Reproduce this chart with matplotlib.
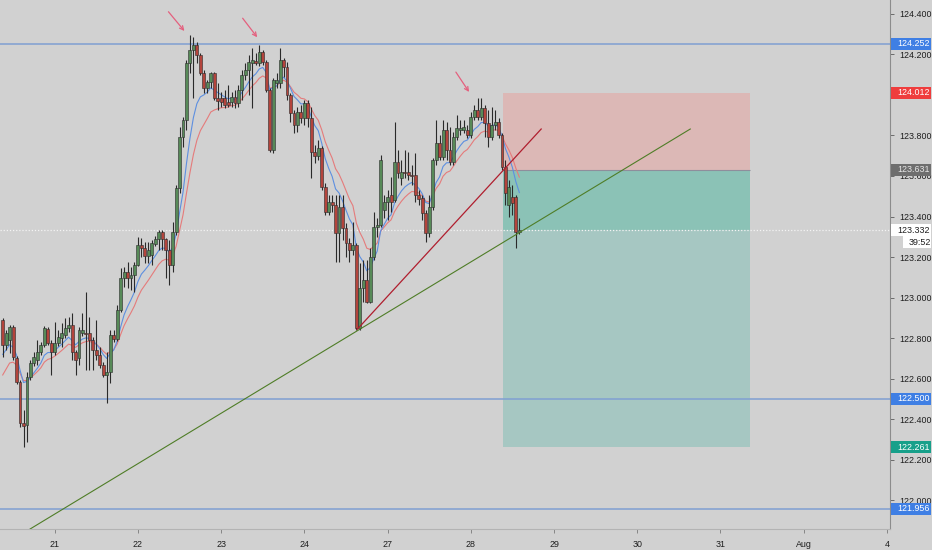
import matplotlib
matplotlib.use('Agg')
import matplotlib.pyplot as plt
from matplotlib.patches import Rectangle
import matplotlib.transforms as mtransforms
import numpy as np

plt.rcParams['font.family'] = ['Liberation Sans', 'DejaVu Sans']

# ---------------- data (hourly candles) ----------------
opens = [
122.889, 122.765, 122.790, 122.854, 122.701, 122.583, 122.380, 122.370, 122.607, 122.676,
122.691, 122.731, 122.765, 122.844, 122.775, 122.731, 122.775, 122.800, 122.815, 122.849,
122.864, 122.731, 122.701, 122.824, 122.824, 122.824, 122.790, 122.741, 122.716, 122.667,
122.617, 122.632, 122.815, 122.795, 122.938, 123.096, 123.126, 123.096, 123.111, 123.160,
123.259, 123.244, 123.205, 123.210, 123.264, 123.289, 123.323, 123.289, 123.234, 123.160,
123.323, 123.540, 123.792, 123.876, 124.158, 124.222, 124.247, 124.197, 124.108, 124.034,
124.064, 124.108, 123.985, 123.985, 123.985, 123.965, 123.965, 123.990, 123.960, 124.025,
124.099, 124.123, 124.158, 124.168, 124.158, 124.212, 124.163, 124.025, 123.728, 124.059,
124.059, 124.173, 124.138, 124.000, 123.911, 123.852, 123.916, 123.886, 123.960, 123.886,
123.719, 123.699, 123.738, 123.546, 123.422, 123.471, 123.457, 123.318, 123.447, 123.343,
123.269, 123.234, 123.259, 122.849, 123.047, 123.086, 122.978, 123.200, 123.348, 123.358,
123.432, 123.471, 123.506, 123.481, 123.669, 123.590, 123.620, 123.620, 123.605, 123.605,
123.506, 123.491, 123.417, 123.318, 123.447, 123.679, 123.763, 123.694, 123.827, 123.728,
123.669, 123.792, 123.827, 123.827, 123.827, 123.802, 123.891, 123.926, 123.891, 123.936,
123.862, 123.792, 123.852, 123.867, 123.802, 123.644, 123.457, 123.496, 123.496, 123.323,
]
highs = [
122.899, 122.839, 122.864, 122.864, 122.711, 122.593, 122.444, 122.632, 122.691, 122.731,
122.790, 122.780, 122.859, 122.854, 122.790, 122.879, 122.839, 122.874, 122.899, 122.904,
122.923, 122.741, 122.854, 122.923, 123.027, 122.904, 122.805, 122.889, 122.755, 122.681,
122.731, 122.839, 122.839, 122.963, 123.146, 123.151, 123.175, 123.151, 123.175, 123.299,
123.294, 123.274, 123.274, 123.284, 123.304, 123.333, 123.333, 123.294, 123.284, 123.373,
123.555, 123.842, 123.891, 124.173, 124.296, 124.286, 124.261, 124.207, 124.123, 124.074,
124.113, 124.113, 124.059, 124.015, 124.025, 124.049, 124.015, 124.025, 124.049, 124.123,
124.158, 124.197, 124.232, 124.207, 124.247, 124.222, 124.173, 124.034, 124.084, 124.108,
124.232, 124.183, 124.163, 124.010, 123.926, 123.941, 123.951, 123.975, 123.975, 123.941,
123.753, 123.778, 123.748, 123.565, 123.506, 123.506, 123.506, 123.506, 123.506, 123.368,
123.294, 123.373, 123.269, 123.170, 123.185, 123.185, 123.244, 123.422, 123.392, 123.704,
123.506, 123.531, 123.595, 123.867, 123.728, 123.679, 123.728, 123.719, 123.654, 123.714,
123.531, 123.506, 123.432, 123.506, 123.689, 123.876, 123.802, 123.876, 123.867, 123.842,
123.817, 123.901, 123.876, 123.876, 123.852, 123.916, 123.951, 123.985, 123.985, 123.951,
123.926, 123.941, 123.926, 123.886, 123.812, 123.679, 123.580, 123.555, 123.506, 123.392,
]
lows = [
122.706, 122.741, 122.726, 122.691, 122.573, 122.361, 122.262, 122.286, 122.593, 122.662,
122.667, 122.716, 122.755, 122.765, 122.617, 122.716, 122.760, 122.755, 122.800, 122.829,
122.691, 122.617, 122.667, 122.810, 122.642, 122.642, 122.642, 122.691, 122.652, 122.607,
122.479, 122.578, 122.780, 122.785, 122.928, 123.052, 123.047, 123.037, 123.027, 123.155,
123.200, 123.170, 123.170, 123.160, 123.254, 123.234, 123.234, 123.096, 123.062, 123.126,
123.309, 123.516, 123.743, 123.827, 124.108, 123.985, 124.158, 124.099, 124.010, 124.010,
124.034, 123.975, 123.926, 123.941, 123.936, 123.941, 123.941, 123.936, 123.941, 123.975,
124.074, 124.000, 123.936, 124.148, 124.143, 124.148, 124.015, 123.719, 123.714, 124.034,
124.034, 124.089, 123.975, 123.867, 123.812, 123.817, 123.862, 123.852, 123.842, 123.590,
123.664, 123.679, 123.531, 123.407, 123.407, 123.422, 123.175, 123.175, 123.284, 123.200,
123.175, 123.210, 122.839, 122.839, 122.978, 122.973, 122.973, 123.185, 123.299, 123.348,
123.392, 123.383, 123.422, 123.471, 123.590, 123.555, 123.590, 123.580, 123.555, 123.471,
123.457, 123.383, 123.274, 123.299, 123.432, 123.654, 123.679, 123.679, 123.679, 123.654,
123.654, 123.778, 123.802, 123.812, 123.787, 123.787, 123.876, 123.876, 123.876, 123.792,
123.743, 123.778, 123.827, 123.787, 123.630, 123.457, 123.398, 123.407, 123.244, 123.313,
]
closes = [
122.765, 122.824, 122.854, 122.706, 122.583, 122.380, 122.366, 122.607, 122.676, 122.706,
122.731, 122.765, 122.849, 122.775, 122.731, 122.775, 122.805, 122.824, 122.849, 122.864,
122.731, 122.691, 122.839, 122.839, 122.820, 122.790, 122.741, 122.716, 122.667, 122.617,
122.632, 122.815, 122.795, 122.938, 123.096, 123.126, 123.096, 123.111, 123.160, 123.259,
123.244, 123.205, 123.234, 123.269, 123.289, 123.323, 123.289, 123.234, 123.160, 123.323,
123.540, 123.792, 123.876, 124.158, 124.222, 124.247, 124.197, 124.108, 124.034, 124.064,
124.108, 123.985, 123.970, 123.965, 123.951, 123.951, 123.990, 123.960, 124.025, 124.099,
124.123, 124.163, 124.173, 124.158, 124.212, 124.163, 124.025, 123.728, 124.074, 124.074,
124.173, 124.138, 124.000, 123.911, 123.852, 123.916, 123.886, 123.960, 123.886, 123.719,
123.699, 123.738, 123.546, 123.422, 123.471, 123.457, 123.318, 123.447, 123.343, 123.269,
123.234, 123.259, 122.849, 123.047, 123.086, 122.978, 123.200, 123.348, 123.358, 123.679,
123.471, 123.496, 123.471, 123.669, 123.615, 123.620, 123.615, 123.605, 123.600, 123.506,
123.486, 123.417, 123.318, 123.447, 123.679, 123.763, 123.694, 123.827, 123.728, 123.669,
123.792, 123.837, 123.837, 123.842, 123.802, 123.891, 123.926, 123.891, 123.936, 123.862,
123.792, 123.852, 123.867, 123.802, 123.644, 123.516, 123.546, 123.466, 123.323, 123.332,
]

x_tick_idx = [15, 39, 63, 87, 111, 135, 159, 183, 207, 231, 255]
x_tick_labels = ['21', '22', '23', '24', '27', '28', '29', '30', '31', 'Aug', '4']
y_ticks = [122.0, 122.2, 122.4, 122.6, 122.8, 123.0, 123.2, 123.4, 123.6, 123.8, 124.0, 124.2, 124.4]
y_tick_labels = ['122.000', '122.200', '122.400', '122.600', '122.800', '123.000', '123.200',
                 '123.400', '123.600', '123.800', '', '124.200', '124.400']

levels = [124.252, 122.500, 121.956]
pos_start, pos_end = 144.3, 215.6
pos_stop, pos_entry, pos_target = 124.012, 123.631, 122.261

red_trend_x = [102.2, 155.3]
red_trend_y = [122.842, 123.832]
green_trend_x = [7.9, 198.3]
green_trend_y = [121.857, 123.832]

arrow_starts = [(47.8, 124.411), (69.2, 124.379), (130.7, 124.113)]
arrow_ends = [(52.4, 124.316), (73.4, 124.285), (134.5, 124.015)]

ema_fast_period, ema_slow_period = 8, 13
ema_fast_seed, ema_slow_seed = 122.706, 122.593
countdown = '39:52'

# ---------------- styling ----------------
BG = '#d1d1d1'
UP, DOWN, EDGE = '#578a58', '#b3443c', '#2a2a2a'
FS = 6.4

fig = plt.figure(figsize=(9.32, 5.5), dpi=100, facecolor=BG)
ax = fig.add_axes([0, 21 / 550, 890 / 932, 529 / 550], facecolor=BG)
ax.set_xlim(-0.78, 255.9)
ax.set_ylim(121.857, 124.469)
px = (124.469 - 121.857) / 529.0  # price per pixel

idx = np.arange(len(closes))
o = np.array(opens); h = np.array(highs); l = np.array(lows); c = np.array(closes)
last = closes[-1]

# position box
ax.add_patch(Rectangle((pos_start, pos_entry), pos_end - pos_start, pos_stop - pos_entry,
                       facecolor='#dcb8b6', edgecolor='none', zorder=1))
ax.add_patch(Rectangle((pos_start, last), pos_end - pos_start, pos_entry - last,
                       facecolor='#8bc2b6', edgecolor='none', zorder=1))
ax.add_patch(Rectangle((pos_start, pos_target), pos_end - pos_start, last - pos_target,
                       facecolor='#a6c7c2', edgecolor='none', zorder=1))
ax.hlines(pos_entry, pos_start, pos_end, color='#8e8e9c', lw=0.8, zorder=1.5)

# horizontal levels
for lv in levels:
    ax.axhline(lv, color='#7f9fd2', lw=1.1, zorder=2)
ax.axhline(last, color='#f4f4f4', lw=0.9, ls=(0, (1, 1.5)), zorder=2)

# EMAs
def ema(vals, period, seed):
    a = 2.0 / (period + 1)
    out = []
    e = seed
    for v in vals:
        e = e + a * (v - e)
        out.append(e)
    return np.array(out)

ax.plot(idx, ema(closes, ema_slow_period, ema_slow_seed), color='#e57b7b', lw=0.8, zorder=2.5)
ax.plot(idx, ema(closes, ema_fast_period, ema_fast_seed), color='#5d8fe0', lw=0.8, zorder=2.6)

# candles
ax.vlines(idx, l, h, color=EDGE, lw=0.8, zorder=3)
bottoms = np.minimum(o, c)
heights = np.maximum(np.abs(c - o), px * 0.8)
colors = [UP if cc >= oo else DOWN for oo, cc in zip(opens, closes)]
ax.bar(idx, heights, bottom=bottoms, width=0.84, color=colors, edgecolor=EDGE,
       linewidth=0.4, zorder=4)

# trend lines
ax.plot(red_trend_x, red_trend_y, color='#b01e2e', lw=0.9, zorder=5)
ax.plot(green_trend_x, green_trend_y, color='#4f7d27', lw=0.8, zorder=5)

# arrows
for s, e in zip(arrow_starts, arrow_ends):
    ax.annotate('', xy=e, xytext=s,
                arrowprops=dict(arrowstyle='->', color='#e4607e', lw=0.9,
                                mutation_scale=7, shrinkA=0, shrinkB=0), zorder=6)

# axes styling
for sp in ['top', 'left']:
    ax.spines[sp].set_visible(False)
ax.spines['right'].set_color('#8c8c8c')
ax.spines['right'].set_linewidth(0.8)
ax.spines['bottom'].set_color('#b3b3b3')
ax.spines['bottom'].set_linewidth(0.8)

ax.yaxis.tick_right()
ax.set_yticks(y_ticks)
ax.set_yticklabels(y_tick_labels)
ax.tick_params(axis='y', length=3, width=0.6, pad=4, labelsize=FS, colors='#5a5a5a',
               labelcolor='#1e1e1e')
ax.set_xticks(x_tick_idx)
ax.set_xticklabels(x_tick_labels)
ax.tick_params(axis='x', length=3, width=0.6, pad=5, labelsize=FS, colors='#7a7a7a',
               labelcolor='#1e1e1e')

# price tags
trans = mtransforms.blended_transform_factory(ax.transAxes, ax.transData)
x0, x1 = 1.0012, 1.0462
tag_h = 12 * px

def tag(price, text, fc, tc, left=x0, right=x1):
    ax.add_patch(Rectangle((left, price - tag_h / 2), right - left, tag_h, transform=trans,
                           facecolor=fc, edgecolor='none', clip_on=False, zorder=10))
    ax.text(left + 0.0068, price, text, transform=trans, color=tc, fontsize=FS,
            va='center', ha='left', zorder=11, clip_on=False)

tag(levels[0], '%.3f' % levels[0], '#3f7fe4', 'white')
tag(pos_stop, '%.3f' % pos_stop, '#ef3d3d', 'white')
tag(pos_entry, '%.3f' % pos_entry, '#6e6e6e', '#e6e6e6')
tag(last, '%.3f' % last, 'white', '#1e1e1e')
tag(last - tag_h, countdown, 'white', '#1e1e1e', left=1.0146)
tag(levels[1], '%.3f' % levels[1], '#3f7fe4', 'white')
tag(pos_target, '%.3f' % pos_target, '#17a08a', 'white')
tag(levels[2], '%.3f' % levels[2], '#3f7fe4', 'white')

fig.savefig('out.png', dpi=100, facecolor=BG)
